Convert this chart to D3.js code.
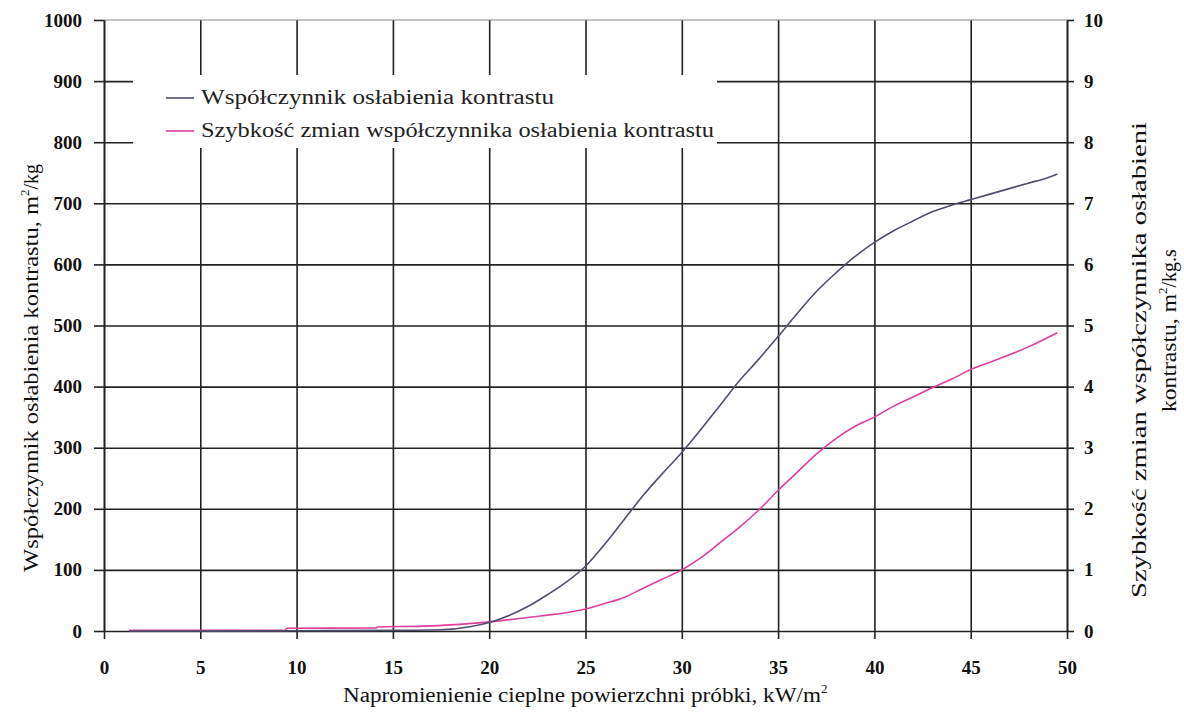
<!DOCTYPE html>
<html>
<head>
<meta charset="utf-8">
<script src="https://cdn.jsdelivr.net/npm/d3@7"></script>
<style>
  body { margin: 0; background: #fff; }
  svg text { font-family: "Liberation Serif", "Times New Roman", Tinos, "DejaVu Serif", serif !important; }
</style>
</head>
<body>
<svg></svg>
<script>
const width = 1184
const height = 722

// Data
const xTicks = [0, 5, 10, 15, 20, 25, 30, 35, 40, 45, 50]
const yLeftTicks = [0, 100, 200, 300, 400, 500, 600, 700, 800, 900, 1000]
const yRightTicks = [0, 1, 2, 3, 4, 5, 6, 7, 8, 9, 10]

// Współczynnik osłabienia kontrastu (left axis)
const coefX = [1.3, 5, 10, 15, 17.5, 19, 20, 21, 22, 23, 24, 25, 26, 27, 28, 29, 30, 31, 32, 33, 34, 35, 36, 37, 38, 39, 40, 41, 42, 43, 44, 45, 46, 47, 48, 49, 49.5]
const coefY = [0, 0, 0.5, 1, 2, 7, 14, 25, 40, 59, 80, 106, 142, 182, 222, 258, 292, 330, 370, 410, 445, 482, 520, 556, 586, 613, 636, 655, 671, 686, 697, 706, 715, 724, 733, 742, 748]

// Szybkość zmian współczynnika (right axis)
const rateX = [1.3, 9.4, 9.5, 14.1, 14.2, 16.6, 18, 20, 22, 23, 24, 25, 26, 27, 28, 29, 30, 31, 32, 33, 34, 35, 36, 37, 38, 39, 40, 41, 42, 43, 44, 45, 46, 47, 48, 49.5]
const rateY = [0.01, 0.01, 0.045, 0.05, 0.065, 0.08, 0.1, 0.15, 0.22, 0.26, 0.3, 0.36, 0.45, 0.55, 0.7, 0.85, 1.0, 1.2, 1.45, 1.7, 1.98, 2.3, 2.6, 2.9, 3.15, 3.35, 3.5, 3.68, 3.83, 3.98, 4.12, 4.28, 4.4, 4.52, 4.65, 4.88]

const seriesNames = ["Współczynnik osłabienia kontrastu", "Szybkość zmian współczynnika osłabienia kontrastu"]
const seriesColors = ["#4d4f6e", "#de3f9c"]

const margin = { top: 20, right: 117, bottom: 91, left: 104 }
const innerWidth = width - margin.left - margin.right
const innerHeight = height - margin.top - margin.bottom

const svg = d3.select("svg")
    .attr("width", width)
    .attr("height", height)

const g = svg.append("g")
    .attr("transform", `translate(${margin.left}, ${margin.top})`)

// Scales
const xScale = d3.scaleLinear().domain([0, 50]).range([0, innerWidth])
const yLeft = d3.scaleLinear().domain([0, 1000]).range([innerHeight, 0])
const yRight = d3.scaleLinear().domain([0, 10]).range([innerHeight, 0])

// Grid
const gridColor = "#222"
g.append("g")
    .call(d3.axisBottom(xScale).tickValues(xTicks).tickSize(innerHeight).tickFormat(""))
    .call(s => s.select(".domain").remove())
    .selectAll(".tick line").attr("stroke", gridColor).attr("stroke-width", 1.6)

g.append("g")
    .call(d3.axisRight(yLeft).tickValues(yLeftTicks.slice(1, -1)).tickSize(innerWidth).tickFormat(""))
    .call(s => s.select(".domain").remove())
    .selectAll(".tick line").attr("stroke", gridColor).attr("stroke-width", 1.6)

// top border
g.append("line")
    .attr("x1", 0).attr("x2", innerWidth)
    .attr("y1", yLeft(1000)).attr("y2", yLeft(1000))
    .attr("stroke", "#888").attr("stroke-width", 1.2)

// Axes
const styleAxis = (sel) => {
    sel.select(".domain").attr("stroke", gridColor).attr("stroke-width", 1.6)
    sel.selectAll(".tick line").attr("stroke", gridColor).attr("stroke-width", 1.6)
    sel.selectAll(".tick text")
        .attr("fill", "#111")
        .attr("font-size", "19px")
        .attr("font-weight", "bold")
}

g.append("g")
    .attr("transform", `translate(0, ${innerHeight})`)
    .call(d3.axisBottom(xScale).tickValues(xTicks).tickFormat(d3.format("d")).tickSize(8).tickSizeOuter(0).tickPadding(22))
    .call(styleAxis)

g.append("g")
    .call(d3.axisLeft(yLeft).tickValues(yLeftTicks).tickFormat(d3.format("d")).tickSize(10).tickSizeOuter(0).tickPadding(12))
    .call(styleAxis)

g.append("g")
    .attr("transform", `translate(${innerWidth}, 0)`)
    .call(d3.axisRight(yRight).tickValues(yRightTicks).tickFormat(d3.format("d")).tickSize(7).tickSizeOuter(0).tickPadding(10))
    .call(styleAxis)

// Legend box (covers grid)
const legendX = 133 - margin.left
const legendY = 75 - margin.top
const legendLengths = [353, 513]
g.append("rect")
    .attr("x", legendX).attr("y", legendY)
    .attr("width", 717 - 133).attr("height", 148 - 75)
    .attr("fill", "#fff")

seriesNames.forEach((name, i) => {
    const ly = legendY + 23 + i * 33
    g.append("line")
        .attr("x1", legendX + 33).attr("x2", legendX + 61)
        .attr("y1", ly).attr("y2", ly)
        .attr("stroke", seriesColors[i]).attr("stroke-width", 1.6)
    g.append("text")
        .attr("x", legendX + 68).attr("y", ly + 6)
        .attr("font-size", "20px")
        .attr("fill", "#222")
        .attr("textLength", legendLengths[i])
        .attr("lengthAdjust", "spacingAndGlyphs")
        .text(name)
})

// Lines
const coefData = coefX.map((x, i) => ({ x, y: coefY[i] }))
const rateData = rateX.map((x, i) => ({ x, y: rateY[i] }))

const coefLine = d3.line().x(d => xScale(d.x)).y(d => yLeft(d.y)).curve(d3.curveMonotoneX)
const rateLine = d3.line().x(d => xScale(d.x)).y(d => yRight(d.y)).curve(d3.curveMonotoneX)

g.append("path")
    .datum(rateData)
    .attr("d", rateLine)
    .attr("fill", "none")
    .attr("stroke", seriesColors[1])
    .attr("stroke-width", 1.6)

g.append("path")
    .datum(coefData)
    .attr("d", coefLine)
    .attr("fill", "none")
    .attr("stroke", seriesColors[0])
    .attr("stroke-width", 1.6)

// Axis titles: main part stretched to the width seen in the picture, then superscript 2 and the rest
const title = (transform, main, mainLen, rest) => {
    const t = svg.append("text")
        .attr("transform", transform)
        .attr("font-size", "20px")
        .attr("fill", "#111")
    t.append("tspan")
        .attr("textLength", mainLen)
        .attr("lengthAdjust", "spacingAndGlyphs")
        .text(main)
    if (rest !== null) {
        t.append("tspan").attr("dy", -9).attr("font-size", "13px").text("2")
        if (rest) t.append("tspan").attr("dy", 9).text(rest)
    }
}

title("translate(343, 702)", "Napromienienie cieplne powierzchni próbki,  kW/m", 478, "")
title("translate(38, 572) rotate(-90)", "Współczynnik osłabienia kontrastu,  m", 376, "/kg")
title("translate(1146, 598) rotate(-90)", "Szybkość zmian współczynnika osłabieni", 476, null)
title("translate(1176, 412) rotate(-90)", "kontrastu,  m", 118, "/kg.s")
</script>
</body>
</html>
